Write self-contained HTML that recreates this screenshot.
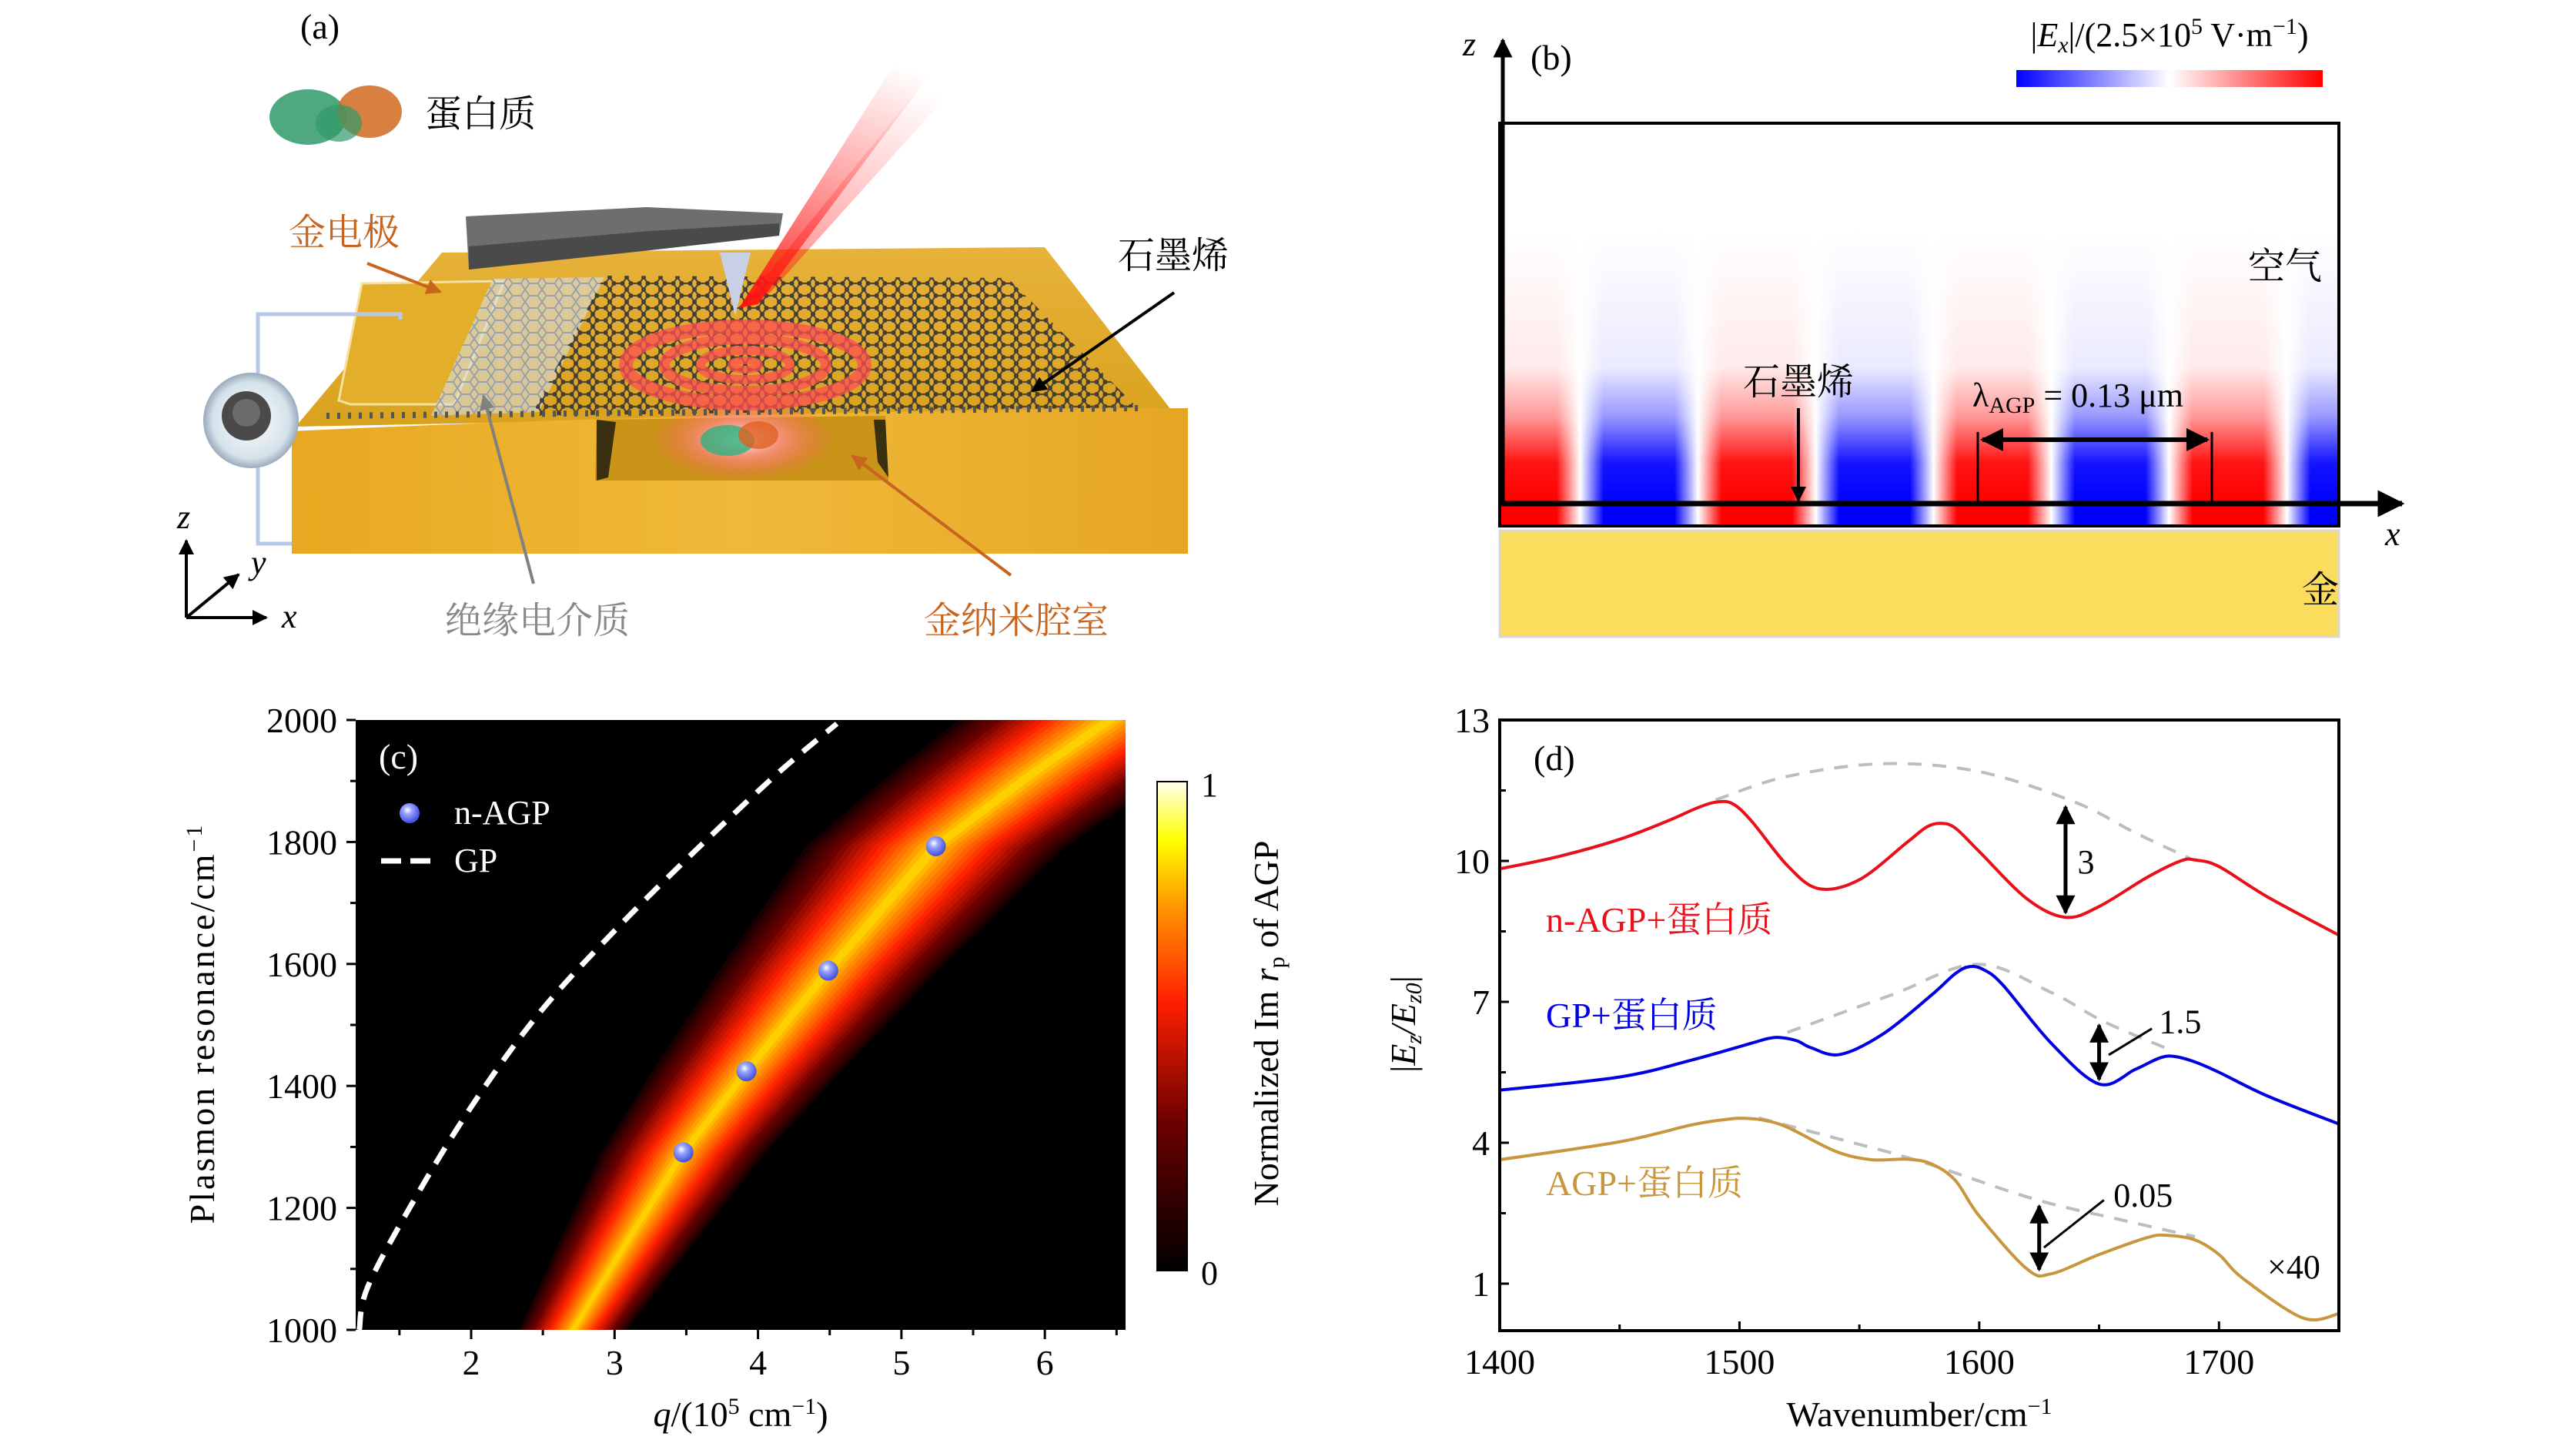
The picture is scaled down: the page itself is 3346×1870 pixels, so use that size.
<!DOCTYPE html>
<html><head><meta charset="utf-8"><style>
html,body{margin:0;padding:0;background:#fff;}
svg{display:block;font-family:"Liberation Serif","Noto Serif CJK SC",serif;}
.cjk{font-family:"Liberation Serif","Noto Serif CJK SC","Noto Sans CJK SC",serif;}
</style></head><body>
<svg id="fig" xmlns="http://www.w3.org/2000/svg" width="3346" height="1870" viewBox="0 0 3346 1870">
<defs>
  <linearGradient id="goldTop" x1="0" y1="0" x2="0" y2="1"><stop offset="0" stop-color="#e7b23a"/><stop offset="1" stop-color="#d9a21e"/></linearGradient>
  <linearGradient id="goldFront" x1="0" y1="0" x2="1" y2="0"><stop offset="0" stop-color="#e8a820"/><stop offset="0.5" stop-color="#f0b93a"/><stop offset="1" stop-color="#e6a624"/></linearGradient>
  <pattern id="mesh" width="22" height="16" patternUnits="userSpaceOnUse">
    <path d="M0 8 L5.5 0 L16.5 0 L22 8 L16.5 16 L5.5 16 Z" fill="none" stroke="#3d3d3d" stroke-width="2.2"/>
    <circle cx="5.5" cy="0" r="3" fill="#333"/><circle cx="16.5" cy="0" r="3" fill="#333"/>
    <circle cx="0" cy="8" r="3" fill="#333"/><circle cx="22" cy="8" r="3" fill="#333"/>
    <circle cx="5.5" cy="16" r="3" fill="#333"/><circle cx="16.5" cy="16" r="3" fill="#333"/>
  </pattern>
  <pattern id="meshLight" width="22" height="16" patternUnits="userSpaceOnUse">
    <rect width="22" height="16" fill="#d8dde2" opacity="0.6"/>
    <path d="M0 8 L5.5 0 L16.5 0 L22 8 L16.5 16 L5.5 16 Z" fill="none" stroke="#9aa3ab" stroke-width="2"/>
  </pattern>
  <linearGradient id="beam" x1="0" y1="1" x2="0.3" y2="0"><stop offset="0" stop-color="#ff1010" stop-opacity="0.95"/><stop offset="1" stop-color="#ff4040" stop-opacity="0"/></linearGradient>
  <radialGradient id="glow"><stop offset="0" stop-color="#fff" stop-opacity="0.9"/><stop offset="0.4" stop-color="#ff9090" stop-opacity="0.8"/><stop offset="1" stop-color="#ff5050" stop-opacity="0"/></radialGradient>
  <radialGradient id="knob"><stop offset="0" stop-color="#fff"/><stop offset="0.8" stop-color="#d4e2ea"/><stop offset="1" stop-color="#9ab"/></radialGradient>
  <linearGradient id="fieldH" gradientUnits="userSpaceOnUse" x1="1976" y1="0" x2="2282" y2="0" spreadMethod="repeat">
    <stop offset="0" stop-color="#ff0000"/><stop offset="0.15" stop-color="#ff0000"/><stop offset="0.25" stop-color="#ffffff"/>
    <stop offset="0.35" stop-color="#0000ff"/><stop offset="0.65" stop-color="#0000ff"/><stop offset="0.75" stop-color="#ffffff"/>
    <stop offset="0.85" stop-color="#ff0000"/><stop offset="1" stop-color="#ff0000"/>
  </linearGradient>
  <linearGradient id="fadeV" gradientUnits="userSpaceOnUse" x1="0" y1="654" x2="0" y2="300">
    <stop offset="0" stop-color="#fff" stop-opacity="0"/><stop offset="0.15" stop-color="#fff" stop-opacity="0.08"/>
    <stop offset="0.32" stop-color="#fff" stop-opacity="0.6"/><stop offset="0.5" stop-color="#fff" stop-opacity="0.92"/>
    <stop offset="1" stop-color="#fff" stop-opacity="1"/>
  </linearGradient>
  <linearGradient id="bwr" x1="0" y1="0" x2="1" y2="0"><stop offset="0" stop-color="#0000ff"/><stop offset="0.5" stop-color="#ffffff"/><stop offset="1" stop-color="#ff0000"/></linearGradient>
  <linearGradient id="hot" x1="0" y1="1" x2="0" y2="0">
    <stop offset="0" stop-color="#000"/><stop offset="0.3" stop-color="#6a0000"/><stop offset="0.55" stop-color="#ff2000"/>
    <stop offset="0.75" stop-color="#ff9a00"/><stop offset="0.88" stop-color="#ffff00"/><stop offset="1" stop-color="#fffff0"/>
  </linearGradient>
  <radialGradient id="ball" cx="0.4" cy="0.35" r="0.6"><stop offset="0" stop-color="#fff"/><stop offset="0.35" stop-color="#9aa6ff"/><stop offset="1" stop-color="#4a55e0"/></radialGradient>
  <clipPath id="clipC"><rect x="462" y="935" width="1000" height="792"/></clipPath>
  <clipPath id="clipD"><rect x="1948" y="935" width="1090" height="793"/></clipPath>
  <marker id="ah" viewBox="0 0 10 10" refX="9" refY="5" markerWidth="5" markerHeight="5" orient="auto-start-reverse"><path d="M0 0 L10 5 L0 10 Z" fill="#000"/></marker>
  <marker id="ahO" viewBox="0 0 10 10" refX="9" refY="5" markerWidth="5" markerHeight="5" orient="auto"><path d="M0 0 L10 5 L0 10 Z" fill="#c8641e"/></marker>
  <marker id="ahG" viewBox="0 0 10 10" refX="9" refY="5" markerWidth="5" markerHeight="5" orient="auto"><path d="M0 0 L10 5 L0 10 Z" fill="#808080"/></marker>
</defs>

<!-- ============ PANEL A ============ -->
<g>
  <text x="390" y="50" font-size="46">(a)</text>
  <g>
    <ellipse cx="400" cy="152" rx="50" ry="36" fill="#2f9a6a" opacity="0.85"/>
    <ellipse cx="480" cy="145" rx="42" ry="34" fill="#d06a1e" opacity="0.85"/>
    <ellipse cx="440" cy="160" rx="30" ry="24" fill="#2f9a6a" opacity="0.7"/>
  </g>
  <text class="cjk" x="552" y="164" font-size="48">蛋白质</text>
  <polygon points="574,328 1357,321 1521,532 384,554" fill="url(#goldTop)"/>
  <path d="M379,560 Q900,535 1543,530 L1543,719 L379,719 Z" fill="url(#goldFront)"/>
  <polygon points="775,545 1150,540 1154,624 773,624" fill="#c99418"/>
  <polygon points="775,545 800,548 790,620 775,624" fill="#3a3010"/>
  <polygon points="1135,545 1150,545 1154,620 1140,600" fill="#3a3010"/>
  <ellipse cx="965" cy="570" rx="120" ry="55" fill="url(#glow)"/>
  <ellipse cx="945" cy="572" rx="35" ry="20" fill="#2fb080" opacity="0.8"/>
  <ellipse cx="985" cy="565" rx="26" ry="18" fill="#e06020" opacity="0.8"/>
  <polygon points="470,368 655,365 590,525 455,525 440,520" fill="#e3ae2a" stroke="#f5e2a0" stroke-width="3"/>
  <polygon points="640,362 785,360 700,535 560,540" fill="url(#meshLight)"/>
  <polygon points="785,358 1309,361 1477,529 690,540" fill="url(#mesh)" opacity="0.9"/>
  <line x1="424" y1="540" x2="1480" y2="530" stroke="#555" stroke-width="8" stroke-dasharray="4 10"/>
  <g fill="none" stroke="#ff5050" opacity="0.75">
    <ellipse cx="968" cy="474" rx="155" ry="50" stroke-width="18"/>
    <ellipse cx="968" cy="474" rx="105" ry="34" stroke-width="14"/>
    <ellipse cx="968" cy="474" rx="58" ry="19" stroke-width="12"/>
    <ellipse cx="968" cy="474" rx="18" ry="6" stroke-width="10"/>
  </g>
  <polygon points="960,400 985,395 1250,40 1180,55" fill="url(#beam)"/>
  <polygon points="965,395 1000,380 1270,80 1230,70" fill="url(#beam)" opacity="0.6"/>
  <polygon points="605,281 840,269 1017,277 1012,306 844,325 609,350" fill="#6e6e6e"/>
  <polygon points="609,320 844,300 1012,290 1012,306 844,325 609,350" fill="#4a4a4a"/>
  <polygon points="935,328 975,328 955,410" fill="#c8d0e6"/>
  <path d="M520,415 L520,408 L335,408 L335,500 M335,590 L335,706 L379,706" fill="none" stroke="#b8c8e8" stroke-width="5"/>
  <circle cx="326" cy="546" r="62" fill="url(#knob)"/>
  <circle cx="320" cy="540" r="32" fill="#4a4a4a"/><circle cx="320" cy="536" r="18" fill="#6b6b6b"/>
  <text class="cjk" x="375" y="318" font-size="48" fill="#c8641e">金电极</text>
  <line x1="477" y1="342" x2="572" y2="379" stroke="#c8641e" stroke-width="4" marker-end="url(#ahO)"/>
  <text class="cjk" x="1452" y="348" font-size="48">石墨烯</text>
  <line x1="1525" y1="380" x2="1341" y2="508" stroke="#000" stroke-width="4" marker-end="url(#ah)"/>
  <text class="cjk" x="578" y="822" font-size="48" fill="#888">绝缘电介质</text>
  <line x1="693" y1="758" x2="628" y2="514" stroke="#808080" stroke-width="4" marker-end="url(#ahG)"/>
  <text class="cjk" x="1200" y="822" font-size="48" fill="#c8641e">金纳米腔室</text>
  <line x1="1313" y1="747" x2="1107" y2="592" stroke="#c8641e" stroke-width="4" marker-end="url(#ahO)"/>
  <g stroke="#000" stroke-width="4">
    <line x1="242" y1="802" x2="242" y2="702" marker-end="url(#ah)"/>
    <line x1="242" y1="802" x2="346" y2="802" marker-end="url(#ah)"/>
    <line x1="242" y1="802" x2="310" y2="746" marker-end="url(#ah)"/>
  </g>
  <text x="230" y="686" font-size="44" font-style="italic">z</text>
  <text x="326" y="745" font-size="44" font-style="italic">y</text>
  <text x="366" y="815" font-size="44" font-style="italic">x</text>
</g>

<!-- ============ PANEL B ============ -->
<g>
  <rect x="1948" y="160" width="1090" height="523" fill="#fff"/>
  <rect x="1948" y="300" width="1090" height="383" fill="url(#fieldH)"/>
  <rect x="1948" y="298" width="1090" height="357" fill="url(#fadeV)"/>
  <rect x="1948" y="160" width="1090" height="523" fill="none" stroke="#000" stroke-width="4"/>
  <rect x="1948" y="689" width="1090" height="138" fill="#fcdc5c" stroke="#d8d8d8" stroke-width="3"/>
  <line x1="1948" y1="654" x2="3120" y2="654" stroke="#000" stroke-width="7" marker-end="url(#ah)"/>
  <line x1="1952" y1="654" x2="1952" y2="52" stroke="#000" stroke-width="5" marker-end="url(#ah)"/>
  <text x="1900" y="72" font-size="44" font-style="italic">z</text>
  <text x="3098" y="708" font-size="44" font-style="italic">x</text>
  <text x="1988" y="90" font-size="46">(b)</text>
  <text x="2818" y="60" font-size="44" text-anchor="middle">|<tspan font-style="italic">E<tspan font-size="30" dy="8">x</tspan></tspan><tspan dy="-8">|/(2.5×10</tspan><tspan font-size="30" dy="-16">5</tspan><tspan dy="16"> V·m</tspan><tspan font-size="30" dy="-16">−1</tspan><tspan dy="16">)</tspan></text>
  <rect x="2619" y="91" width="398" height="22" fill="url(#bwr)"/>
  <text class="cjk" x="2920" y="362" font-size="48">空气</text>
  <text class="cjk" x="2336" y="512" font-size="48" text-anchor="middle">石墨烯</text>
  <line x1="2336" y1="530" x2="2336" y2="650" stroke="#000" stroke-width="4" marker-end="url(#ah)"/>
  <text x="2562" y="528" font-size="44">λ<tspan font-size="30" dy="8">AGP</tspan><tspan dy="-8"> = 0.13 μm</tspan></text>
  <line x1="2569" y1="561" x2="2569" y2="654" stroke="#000" stroke-width="3"/>
  <line x1="2873" y1="561" x2="2873" y2="654" stroke="#000" stroke-width="3"/>
  <line x1="2575" y1="571" x2="2867" y2="571" stroke="#000" stroke-width="6" marker-start="url(#ah)" marker-end="url(#ah)"/>
  <text class="cjk" x="2990" y="782" font-size="48">金</text>
</g>

<!-- ============ PANEL C ============ -->
<g id="panelC">
  <rect x="462" y="935" width="1000" height="792" fill="#000"/>
  <g id="bandG" clip-path="url(#clipC)"></g>
  <g id="gpG" clip-path="url(#clipC)"></g>
  <g id="ptsG"></g>
  <g id="axC"></g>
  <text x="492" y="998" font-size="46" fill="#fff">(c)</text>
  <circle cx="532" cy="1056" r="13" fill="url(#ball)"/>
  <text x="590" y="1070" font-size="44" fill="#fff">n-AGP</text>
  <line x1="495" y1="1118" x2="570" y2="1118" stroke="#fff" stroke-width="7" stroke-dasharray="26 12"/>
  <text x="590" y="1132" font-size="44" fill="#fff">GP</text>
  <rect x="1503" y="1015" width="39" height="635" fill="url(#hot)" stroke="#000" stroke-width="2"/>
  <text x="1560" y="1034" font-size="44">1</text>
  <text x="1560" y="1668" font-size="44">0</text>
  <text transform="translate(1660,1329) rotate(-90)" font-size="46" text-anchor="middle">Normalized Im <tspan font-style="italic">r</tspan><tspan font-size="30" dy="8">p</tspan><tspan dy="-8"> of AGP</tspan></text>
  <text transform="translate(278,1329) rotate(-90)" font-size="46" text-anchor="middle" letter-spacing="3">Plasmon resonance/cm<tspan font-size="30" dy="-16">−1</tspan></text>
  <text x="962" y="1852" font-size="46" text-anchor="middle"><tspan font-style="italic">q</tspan>/(10<tspan font-size="30" dy="-16">5</tspan><tspan dy="16"> cm</tspan><tspan font-size="30" dy="-16">−1</tspan><tspan dy="16">)</tspan></text>
</g>

<!-- ============ PANEL D ============ -->
<g id="panelD">
  <g id="curvesD" clip-path="url(#clipD)"></g>
  <rect x="1948" y="935" width="1090" height="793" fill="none" stroke="#000" stroke-width="4"/>
  <g id="axD"></g>
  <text x="1992" y="1000" font-size="46">(d)</text>
  <text class="cjk" x="2008" y="1210" font-size="46" fill="#e8101a">n-AGP+蛋白质</text>
  <text class="cjk" x="2008" y="1334" font-size="46" fill="#0000e0">GP+蛋白质</text>
  <text class="cjk" x="2008" y="1552" font-size="46" fill="#c8963c">AGP+蛋白质</text>
  <text x="2945" y="1660" font-size="44">×40</text>
  <g id="annD"></g>
  <text transform="translate(1838,1330) rotate(-90)" font-size="46" text-anchor="middle">|<tspan font-style="italic">E<tspan font-size="30" dy="8">z</tspan><tspan dy="-8">/E</tspan><tspan font-size="30" dy="8">z0</tspan></tspan><tspan dy="-8">|</tspan></text>
  <text x="2493" y="1852" font-size="46" text-anchor="middle">Wavenumber/cm<tspan font-size="30" dy="-16">−1</tspan></text>
</g>
</svg>

<script>
// ---------- Panel C data ----------
const cXTicks = [2, 3, 4, 5, 6];
const cYTicks = [1000, 1200, 1400, 1600, 1800, 2000];
const gpQ = [1.22, 1.28, 1.6, 2.01, 2.47, 2.99, 3.56, 4.13, 4.55];
const gpW = [1000, 1071, 1212, 1369, 1518, 1652, 1785, 1911, 1994];
const ridgeQ = [2.71, 3.1, 3.48, 3.92, 4.49, 5.24, 5.9, 6.45];
const ridgeW = [1000, 1150, 1291, 1424, 1589, 1793, 1910, 2000];
const ridgeHalfWidth = [0.39, 0.5, 0.6, 0.69, 0.8, 0.95, 1.03, 1.1];
const nagpQ = [3.48, 3.92, 4.49, 5.24];
const nagpW = [1291, 1424, 1589, 1793];

// ---------- Panel D data ----------
const dXTicks = [1400, 1500, 1600, 1700];
const dYTicks = [1, 4, 7, 10, 13];
const redX = [1400,1425,1450,1470,1482,1490,1497,1505,1520,1533,1550,1570,1578,1584,1590,1600,1620,1636,1650,1670,1684,1690,1700,1720,1750];
const redY = [9.83,10.1,10.46,10.85,11.12,11.25,11.22,10.85,9.9,9.41,9.6,10.4,10.72,10.8,10.7,10.2,9.19,8.8,9.03,9.65,10.0,10.02,9.88,9.24,8.42];
const blueX = [1400,1450,1480,1505,1512,1517,1524,1530,1542,1560,1580,1590,1596,1602,1610,1630,1650,1665,1675,1681,1690,1700,1720,1750];
const blueY = [5.12,5.4,5.76,6.12,6.22,6.24,6.17,6.02,5.88,6.32,7.14,7.6,7.75,7.68,7.35,6.12,5.25,5.56,5.8,5.84,5.72,5.5,5.0,4.4];
const goldX = [1400,1450,1480,1495,1502,1510,1520,1540,1555,1570,1580,1590,1600,1620,1630,1650,1670,1678,1690,1700,1710,1735,1750];
const goldY = [3.64,4.02,4.38,4.5,4.52,4.48,4.33,3.82,3.64,3.65,3.55,3.2,2.44,1.31,1.21,1.62,1.98,2.03,1.93,1.62,1.11,0.27,0.36];
const redEnvX = [1490,1520,1560,1600,1640,1665,1688];
const redEnvY = [11.3,11.8,12.07,11.9,11.25,10.6,10.05];
const blueEnvX = [1520,1563,1599,1630,1652,1680];
const blueEnvY = [6.35,7.14,7.8,7.2,6.58,5.97];
const goldEnvX = [1508,1540,1575,1623,1660,1690];
const goldEnvY = [4.53,4.1,3.61,2.8,2.35,2.0];

const NS = 'http://www.w3.org/2000/svg';
function mk(tag, attrs, parent){ const e=document.createElementNS(NS,tag); for(const k in attrs) e.setAttribute(k,attrs[k]); if(parent) parent.appendChild(e); return e; }
function smooth(pts){
  let d='M'+pts[0][0]+','+pts[0][1];
  for(let i=0;i<pts.length-1;i++){
    const p0=pts[Math.max(i-1,0)],p1=pts[i],p2=pts[i+1],p3=pts[Math.min(i+2,pts.length-1)];
    const c1x=p1[0]+(p2[0]-p0[0])/6,c1y=p1[1]+(p2[1]-p0[1])/6,c2x=p2[0]-(p3[0]-p1[0])/6,c2y=p2[1]-(p3[1]-p1[1])/6;
    d+=' C'+c1x+','+c1y+' '+c2x+','+c2y+' '+p2[0]+','+p2[1];
  }
  return d;
}
// ---------- Panel C ----------
const cx = q => 462 + (q - 1.195) * 186.3;
const cy = w => 1727 - (w - 1000) * 0.792;
function hot(v){
  const st=[[0,[0,0,0]],[0.3,[106,0,0]],[0.55,[255,32,0]],[0.75,[255,154,0]],[0.88,[255,255,0]],[1,[255,255,240]]];
  for(let i=0;i<st.length-1;i++){ if(v<=st[i+1][0]){ const t=(v-st[i][0])/(st[i+1][0]-st[i][0]); const a=st[i][1],b=st[i+1][1]; return 'rgb('+a.map((c,j)=>Math.round(c+(b[j]-c)*t)).join(',')+')'; } }
  return 'rgb(255,255,240)';
}
const bandG=document.getElementById('bandG');
const N=22;
for(let k=N;k>=1;k--){
  const f=k/N;
  const left=[],right=[];
  for(let i=0;i<ridgeQ.length;i++){
    left.push([cx(ridgeQ[i]-ridgeHalfWidth[i]*f), cy(ridgeW[i])]);
    right.push([cx(ridgeQ[i]+ridgeHalfWidth[i]*f), cy(ridgeW[i])]);
  }
  const pts=left.concat(right.reverse());
  const v=0.85*Math.pow(1-f,0.8);
  const poly=mk('polygon',{points:pts.map(p=>p.join(',')).join(' '),fill:hot(v)},bandG);
  
  
}
const gpG=document.getElementById('gpG');
const gpPath=mk('path',{d:smooth(gpQ.map((q,i)=>[cx(q),cy(gpW[i])])),fill:'none',stroke:'#fff','stroke-width':7,'stroke-dasharray':'24 16'},gpG);


const ptsG=document.getElementById('ptsG');
nagpQ.forEach((q,i)=>{
  const c=mk('circle',{cx:cx(q),cy:cy(nagpW[i]),r:13,fill:'url(#ball)'},ptsG);
  
  
});
const axC=document.getElementById('axC');
cXTicks.forEach(t=>{
  mk('line',{x1:cx(t),y1:1727,x2:cx(t),y2:1739,stroke:'#000','stroke-width':3},axC);
  const tx=mk('text',{x:cx(t),y:1785,'font-size':46,'text-anchor':'middle'},axC); tx.textContent=t;
  
  
});
for(let t=1.5;t<6.6;t+=1) mk('line',{x1:cx(t),y1:1727,x2:cx(t),y2:1734,stroke:'#000','stroke-width':3},axC);
cYTicks.forEach(t=>{
  mk('line',{x1:450,y1:cy(t),x2:462,y2:cy(t),stroke:'#000','stroke-width':3},axC);
  const tx=mk('text',{x:438,y:cy(t)+16,'font-size':46,'text-anchor':'end'},axC); tx.textContent=t;
  
  
});
for(let t=1100;t<2000;t+=200) mk('line',{x1:455,y1:cy(t),x2:462,y2:cy(t),stroke:'#000','stroke-width':3},axC);

// ---------- Panel D ----------
const dx = w => 1948 + (w - 1400) * (1090/350);
const dy = v => 1728 - v * 61.0;
const curvesD=document.getElementById('curvesD');
function line(xs,ys,color,width,dash,name){
  const p=mk('path',{d:smooth(xs.map((x,i)=>[dx(x),dy(ys[i])])),fill:'none',stroke:color,'stroke-width':width},curvesD);
  if(dash) p.setAttribute('stroke-dasharray',dash);
  
  
}
line(redEnvX,redEnvY,'#bdbdbd',4,'18 14','envelope-nagp');
line(blueEnvX,blueEnvY,'#bdbdbd',4,'18 14','envelope-gp');
line(goldEnvX,goldEnvY,'#bdbdbd',4,'18 14','envelope-agp');
line(redX,redY,'#e8101a',4,null,'curve-nagp-protein');
line(blueX,blueY,'#0000e0',4,null,'curve-gp-protein');
line(goldX,goldY,'#c8963c',4,null,'curve-agp-protein');
const axD=document.getElementById('axD');
dXTicks.forEach(t=>{
  mk('line',{x1:dx(t),y1:1728,x2:dx(t),y2:1716,stroke:'#000','stroke-width':3},axD);
  const tx=mk('text',{x:dx(t),y:1784,'font-size':46,'text-anchor':'middle'},axD); tx.textContent=t;
  
  
});
for(let t=1450;t<1750;t+=100) mk('line',{x1:dx(t),y1:1728,x2:dx(t),y2:1720,stroke:'#000','stroke-width':3},axD);
dYTicks.forEach(t=>{
  mk('line',{x1:1948,y1:dy(t),x2:1960,y2:dy(t),stroke:'#000','stroke-width':3},axD);
  const tx=mk('text',{x:1935,y:dy(t)+16,'font-size':46,'text-anchor':'end'},axD); tx.textContent=t;
  
  
});
for(let t=2.5;t<13;t+=3) mk('line',{x1:1948,y1:dy(t),x2:1956,y2:dy(t),stroke:'#000','stroke-width':3},axD);
const annD=document.getElementById('annD');
function darrow(w,v1,v2,name){
  const l=mk('line',{x1:dx(w),y1:dy(v1)+6,x2:dx(w),y2:dy(v2)-6,stroke:'#000','stroke-width':5,'marker-start':'url(#ah)','marker-end':'url(#ah)'},annD);
  
  
}
darrow(1636,11.25,8.8,'diff-arrow-nagp');
darrow(1650,6.6,5.25,'diff-arrow-gp');
darrow(1625,2.75,1.2,'diff-arrow-agp');
mk('line',{x1:dx(1654),y1:dy(5.87),x2:dx(1672),y2:dy(6.43),stroke:'#000','stroke-width':3},annD);
mk('line',{x1:dx(1627),y1:dy(1.77),x2:dx(1652),y2:dy(2.78),stroke:'#000','stroke-width':3},annD);
const t1=mk('text',{x:dx(1641),y:dy(10)+16,'font-size':44},annD); t1.textContent='3';


const t2=mk('text',{x:dx(1675),y:dy(6.6)+16,'font-size':44},annD); t2.textContent='1.5';


const t3=mk('text',{x:dx(1656),y:dy(2.9)+16,'font-size':44},annD); t3.textContent='0.05';


</script>
</body></html>
